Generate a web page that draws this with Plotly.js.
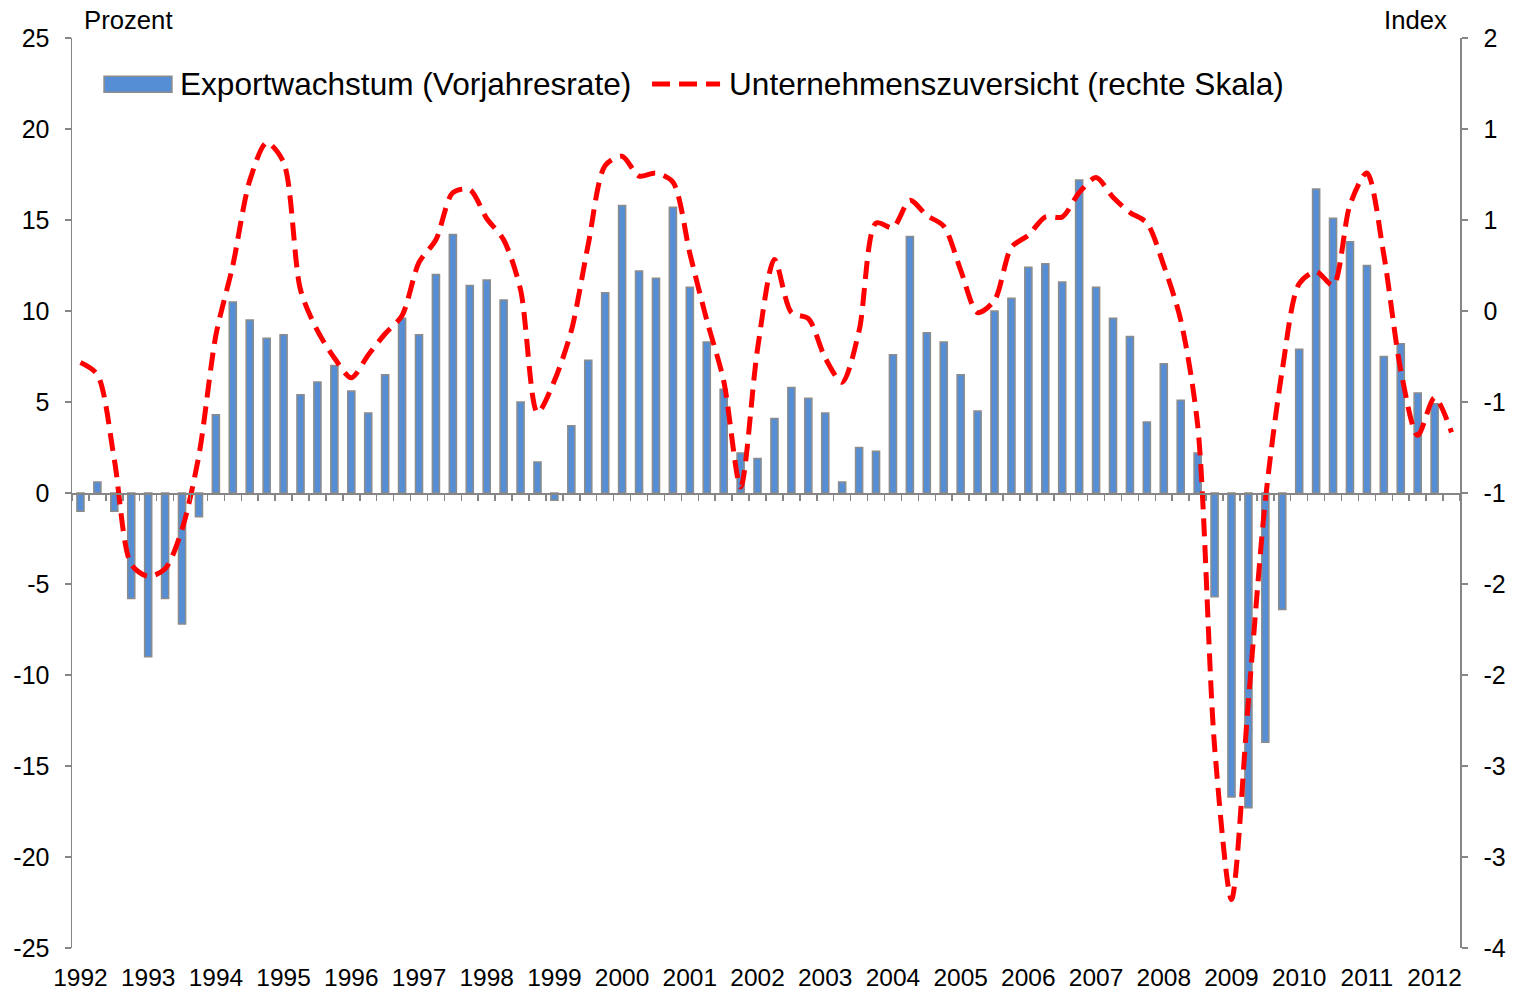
<!DOCTYPE html>
<html>
<head>
<meta charset="utf-8">
<script src="https://cdn.plot.ly/plotly-3.0.1.min.js"></script>
<style>html,body{margin:0;padding:0;background:#fff;}#chart{width:1520px;height:992px;}</style>
</head>
<body>
<div id="chart"></div>
<script>
// Quarterly data 1992Q1 .. 2012Q2
const yearLabels = ["1992","1993","1994","1995","1996","1997","1998","1999","2000","2001","2002","2003","2004","2005","2006","2007","2008","2009","2010","2011","2012"];

const exportGrowth = [
  -1.0, 0.6, -1.0, -5.8,
  -9.0, -5.8, -7.2, -1.3,
  4.3, 10.5, 9.5, 8.5,
  8.7, 5.4, 6.1, 7.0,
  5.6, 4.4, 6.5, 9.6,
  8.7, 12.0, 14.2, 11.4,
  11.7, 10.6, 5.0, 1.7,
  -0.4, 3.7, 7.3, 11.0,
  15.8, 12.2, 11.8, 15.7,
  11.3, 8.3, 5.7, 2.2,
  1.9, 4.1, 5.8, 5.2,
  4.4, 0.6, 2.5, 2.3,
  7.6, 14.1, 8.8, 8.3,
  6.5, 4.5, 10.0, 10.7,
  12.4, 12.6, 11.6, 17.2,
  11.3, 9.6, 8.6, 3.9,
  7.1, 5.1, 2.2, -5.7,
  -16.7, -17.3, -13.7, -6.4,
  7.9, 16.7, 15.1, 13.8,
  12.5, 7.5, 8.2, 5.5,
  4.9, null
];

const confidence = [
  -0.14, -0.22, -0.78, -1.47,
  -1.55, -1.50, -1.24, -0.75,
  0.04, 0.50, 1.06, 1.31,
  1.18, 0.34, 0.07, -0.11,
  -0.24, -0.09, 0.05, 0.17,
  0.52, 0.67, 0.98, 1.00,
  0.81, 0.67, 0.34, -0.47,
  -0.26, 0.07, 0.64, 1.16,
  1.22, 1.09, 1.11, 1.05,
  0.58, 0.14, -0.26, -0.96,
  -0.05, 0.54, 0.19, 0.15,
  -0.11, -0.27, 0.07, 0.78,
  0.75, 0.93, 0.83, 0.76,
  0.47, 0.19, 0.27, 0.62,
  0.70, 0.82, 0.82, 0.98,
  1.08, 0.95, 0.85, 0.78,
  0.50, 0.14, -0.55, -2.67,
  -3.68, -2.37, -1.05, -0.19,
  0.38, 0.46, 0.37, 0.90,
  1.11, 0.57, -0.19, -0.62,
  -0.37, -0.60
];

const leftTickVals = [25, 20, 15, 10, 5, 0, -5, -10, -15, -20, -25];
const leftTickText = ["25", "20", "15", "10", "5", "0", "-5", "-10", "-15", "-20", "-25"];
const rightTickVals = [2, 1.4, 0.8, 0.2, -0.4, -1, -1.6, -2.2, -2.8, -3.4, -4];
const rightTickText = ["2", "1", "1", "0", "-1", "-1", "-2", "-2", "-3", "-3", "-4"];

const seriesNames = ["Exportwachstum (Vorjahresrate)", "Unternehmenszuversicht (rechte Skala)"];

const n = exportGrowth.length;
const idx = exportGrowth.map((_, i) => i);
const boundaries = [];
for (let i = 0; i <= n; i++) boundaries.push(i - 0.5);
const yearTickVals = yearLabels.map((_, k) => k * 4);

const FONT = "Liberation Sans, Arial, sans-serif";
const AX = "#868686";
const BLUE = "#558ed5";
const BORDER = "#8c8c8c";
const RED = "#ff0000";
const DASH = "18px,9px";

const traces = [
  {
    type: "bar", name: seriesNames[0],
    x: idx, y: exportGrowth, width: 0.42,
    marker: {color: BLUE, line: {color: BORDER, width: 1.5}},
    xaxis: "x", yaxis: "y", showlegend: false
  },
  {
    type: "scatter", mode: "lines", name: seriesNames[1],
    x: idx.slice(0, confidence.length), y: confidence,
    line: {color: RED, width: 5, dash: DASH, shape: "spline", smoothing: 0.8},
    xaxis: "x2", yaxis: "y2", showlegend: false
  }
];

const legY = 0.9495;
const layout = {
  width: 1520, height: 992,
  margin: {l: 72, r: 60, t: 38, b: 44},
  paper_bgcolor: "#ffffff", plot_bgcolor: "#ffffff",
  font: {family: FONT, size: 25, color: "#000"},
  showlegend: false,
  bargap: 0,
  xaxis: {
    range: [-0.5, n - 0.5], anchor: "free", position: 0.5,
    showline: true, linecolor: AX, linewidth: 1.5,
    tickmode: "array", tickvals: boundaries, ticks: "outside", ticklen: 6, tickcolor: AX, tickwidth: 1.5,
    showticklabels: false, showgrid: false, zeroline: false, fixedrange: true
  },
  xaxis2: {
    range: [-0.5, n - 0.5], overlaying: "x", anchor: "y", side: "bottom",
    tickmode: "array", tickvals: yearTickVals, ticktext: yearLabels,
    ticks: "", showline: false, showgrid: false, zeroline: false,
    ticklabelstandoff: 12,
    tickfont: {family: FONT, size: 24.5, color: "#000"}
  },
  yaxis: {
    range: [-25, 25], tickmode: "array", tickvals: leftTickVals, ticktext: leftTickText,
    ticks: "outside", ticklen: 6, tickcolor: AX, tickwidth: 1.5,
    showline: true, linecolor: AX, linewidth: 1.5, showgrid: false, zeroline: false,
    ticklabelstandoff: 10,
    tickfont: {family: FONT, size: 25, color: "#000"}
  },
  yaxis2: {
    range: [-4, 2], overlaying: "y", side: "right", anchor: "x2",
    tickmode: "array", tickvals: rightTickVals, ticktext: rightTickText,
    ticks: "outside", ticklen: 6, tickcolor: AX, tickwidth: 1.5,
    showline: true, linecolor: AX, linewidth: 1.5, showgrid: false, zeroline: false,
    ticklabelstandoff: 11,
    tickfont: {family: FONT, size: 25, color: "#000"}
  },
  shapes: [
    {type: "rect", xref: "paper", yref: "paper", x0: 0.0231, x1: 0.0720, y0: 0.9405, y1: 0.9580,
     fillcolor: BLUE, line: {color: BORDER, width: 1.5}},
    {type: "line", xref: "paper", yref: "paper", x0: 0.4179, x1: 0.4669, y0: legY, y1: legY,
     line: {color: RED, width: 5, dash: DASH}}
  ],
  annotations: [
    {text: "Prozent", xref: "paper", yref: "paper", x: 0.0094, y: 1.02, xanchor: "left", yanchor: "middle",
     showarrow: false, xshift: -3, font: {family: FONT, size: 25.7, color: "#000"}},
    {text: "Index", xref: "paper", yref: "paper", x: 0.9906, y: 1.02, xanchor: "right", yanchor: "middle",
     showarrow: false, xshift: 2, font: {family: FONT, size: 25.7, color: "#000"}},
    {text: seriesNames[0], xref: "paper", yref: "paper", x: 0.0778, y: legY, xanchor: "left", yanchor: "middle",
     showarrow: false, xshift: -2, font: {family: FONT, size: 31.6, color: "#000"}},
    {text: seriesNames[1], xref: "paper", yref: "paper", x: 0.4733, y: legY, xanchor: "left", yanchor: "middle",
     showarrow: false, xshift: -2, font: {family: FONT, size: 31.6, color: "#000"}}
  ]
};

Plotly.newPlot("chart", traces, layout, {displayModeBar: false, staticPlot: true});
</script>
</body>
</html>
